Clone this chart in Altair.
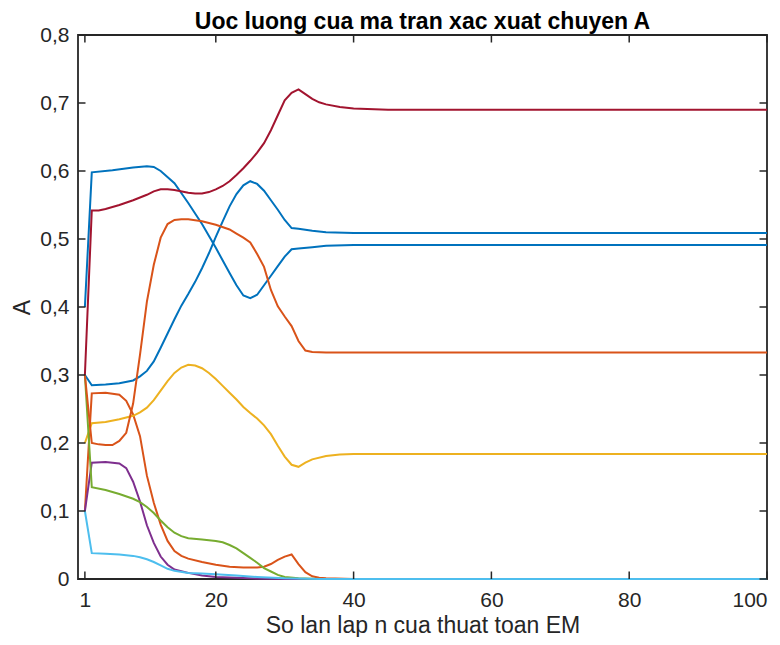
import altair as alt
import pandas as pd

# ---- data (iteration, value) ----
x_blue1 = [1, 2, 5, 8, 10, 11, 12, 14, 16, 18, 20, 22, 23, 24, 25, 26, 27, 28, 29, 30, 31, 32, 34, 36, 40, 50, 100]
y_blue1 = [0.400, 0.598, 0.601, 0.605, 0.607, 0.606, 0.600, 0.582, 0.553, 0.522, 0.487, 0.450, 0.432, 0.417, 0.413, 0.418, 0.432, 0.446, 0.460, 0.474, 0.485, 0.486, 0.488, 0.490, 0.491, 0.491, 0.491]

x_orange1 = [1, 2, 4, 6, 7, 8, 9, 10, 11, 12, 13, 14, 15, 16, 18, 20, 22, 24, 26, 27, 28, 29, 30, 31, 32, 33, 34, 35, 36, 40, 100]
y_orange1 = [0.100, 0.273, 0.274, 0.271, 0.262, 0.242, 0.210, 0.152, 0.112, 0.080, 0.056, 0.041, 0.034, 0.030, 0.025, 0.021, 0.018, 0.017, 0.017, 0.018, 0.022, 0.028, 0.033, 0.036, 0.022, 0.010, 0.004, 0.002, 0.001, 0.000, 0.000]

x_yellow = [1, 2, 4, 6, 8, 9, 10, 11, 12, 13, 14, 15, 16, 17, 18, 19, 20, 21, 22, 23, 24, 25, 26, 27, 28, 29, 30, 31, 32, 33, 34, 36, 38, 40, 100]
y_yellow = [0.200, 0.229, 0.231, 0.235, 0.240, 0.245, 0.252, 0.263, 0.277, 0.291, 0.303, 0.311, 0.315, 0.314, 0.310, 0.303, 0.294, 0.284, 0.274, 0.264, 0.253, 0.244, 0.236, 0.226, 0.213, 0.196, 0.180, 0.168, 0.165, 0.171, 0.176, 0.181, 0.183, 0.184, 0.184]

x_purple = [1, 2, 4, 6, 7, 8, 9, 10, 11, 12, 13, 14, 16, 18, 20, 25, 30, 100]
y_purple = [0.100, 0.171, 0.172, 0.170, 0.163, 0.143, 0.114, 0.079, 0.053, 0.033, 0.021, 0.014, 0.009, 0.005, 0.003, 0.001, 0.000, 0.000]

x_green = [1, 2, 4, 6, 8, 9, 10, 11, 12, 13, 14, 15, 16, 18, 20, 21, 22, 23, 24, 25, 26, 27, 28, 29, 30, 32, 35, 100]
y_green = [0.300, 0.135, 0.131, 0.125, 0.118, 0.113, 0.106, 0.097, 0.086, 0.076, 0.068, 0.063, 0.060, 0.058, 0.056, 0.054, 0.050, 0.045, 0.038, 0.031, 0.024, 0.016, 0.011, 0.006, 0.003, 0.001, 0.000, 0.000]

x_lightblue = [1, 2, 4, 6, 8, 9, 10, 11, 12, 13, 14, 16, 18, 20, 23, 26, 30, 35, 100]
y_lightblue = [0.100, 0.038, 0.037, 0.036, 0.034, 0.032, 0.029, 0.025, 0.020, 0.015, 0.012, 0.009, 0.008, 0.007, 0.005, 0.003, 0.001, 0.000, 0.000]

x_darkred = [1, 2, 3, 4, 6, 8, 10, 11, 12, 13, 14, 16, 17, 18, 19, 20, 21, 22, 23, 24, 25, 26, 27, 28, 29, 30, 31, 32, 33, 34, 35, 36, 38, 40, 45, 100]
y_darkred = [0.300, 0.542, 0.542, 0.544, 0.550, 0.557, 0.565, 0.570, 0.573, 0.573, 0.572, 0.568, 0.567, 0.567, 0.569, 0.573, 0.578, 0.585, 0.594, 0.604, 0.615, 0.627, 0.641, 0.660, 0.682, 0.704, 0.715, 0.720, 0.713, 0.706, 0.701, 0.698, 0.694, 0.692, 0.690, 0.690]

x_blue2 = [1, 2, 4, 6, 8, 9, 10, 11, 12, 13, 14, 15, 16, 17, 18, 19, 20, 21, 22, 23, 24, 25, 26, 27, 28, 29, 30, 31, 32, 34, 36, 40, 100]
y_blue2 = [0.300, 0.285, 0.286, 0.288, 0.292, 0.298, 0.306, 0.320, 0.340, 0.361, 0.382, 0.402, 0.419, 0.437, 0.457, 0.479, 0.503, 0.526, 0.548, 0.566, 0.579, 0.585, 0.581, 0.571, 0.557, 0.543, 0.528, 0.516, 0.515, 0.512, 0.510, 0.509, 0.509]

x_orange2 = [1, 2, 3, 4, 5, 6, 7, 8, 9, 10, 11, 12, 13, 14, 15, 16, 18, 20, 22, 23, 24, 25, 26, 27, 28, 29, 30, 31, 32, 33, 34, 36, 100]
y_orange2 = [0.300, 0.200, 0.198, 0.197, 0.197, 0.203, 0.215, 0.258, 0.330, 0.408, 0.462, 0.502, 0.522, 0.528, 0.529, 0.529, 0.526, 0.521, 0.514, 0.508, 0.502, 0.495, 0.478, 0.459, 0.425, 0.401, 0.386, 0.372, 0.350, 0.336, 0.334, 0.333, 0.333]

series = [
    ("s1", x_blue1, y_blue1),
    ("s2", x_orange1, y_orange1),
    ("s3", x_yellow, y_yellow),
    ("s4", x_purple, y_purple),
    ("s5", x_green, y_green),
    ("s6", x_lightblue, y_lightblue),
    ("s7", x_darkred, y_darkred),
    ("s8", x_blue2, y_blue2),
    ("s9", x_orange2, y_orange2),
]
series_colors = ["#0072BD", "#D95319", "#EDB120", "#7E2F8E", "#77AC30",
                 "#4DBEEE", "#A2142F", "#0072BD", "#D95319"]

x_ticks = [1, 20, 40, 60, 80, 100]
y_ticks = [0, 0.1, 0.2, 0.3, 0.4, 0.5, 0.6, 0.7, 0.8]

title_text = "Uoc luong cua ma tran xac xuat chuyen A"
x_title = "So lan lap n cua thuat toan EM"
y_title = "A"

# ---- build table ----
rows = []
for name, xs, ys in series:
    for xv, yv in zip(xs, ys):
        rows.append({"s": name, "x": xv, "y": yv})
df = pd.DataFrame(rows)

W, H = 689, 544
AX = "#262626"
FONT = "Liberation Sans"

x_scale = alt.Scale(domain=[0, 100], nice=False, zero=False)
y_scale = alt.Scale(domain=[0, 0.8], nice=False)

x_axis = alt.Axis(values=x_ticks, title=x_title, labelPadding=10,
                  titleY=53, titleBaseline="alphabetic", titleAnchor="middle")
y_axis = alt.Axis(values=y_ticks, title=y_title, labelPadding=9,
                  labelExpr="datum.value == 0 ? '0' : replace(format(datum.value, '.1f'), '.', ',')",
                  titleX=-49, titleY=H / 2, titleAngle=-90,
                  titleBaseline="alphabetic", titleAlign="center")

lines = alt.Chart(df).mark_line(strokeWidth=2).encode(
    x=alt.X("x:Q", scale=x_scale, axis=x_axis),
    y=alt.Y("y:Q", scale=y_scale, axis=y_axis),
    color=alt.Color("s:N", scale=alt.Scale(domain=[s[0] for s in series], range=series_colors), legend=None),
    order=alt.Order("x:Q"),
)

xt = pd.DataFrame({"x": x_ticks})
yt = pd.DataFrame({"y": y_ticks})
TL = 7.5
tick_style = dict(color=AX, strokeWidth=1.5)

bottom_ticks = alt.Chart(xt).mark_rule(**tick_style).encode(
    x=alt.X("x:Q", scale=x_scale, axis=x_axis), y=alt.value(H), y2=alt.value(H - TL))
top_ticks = alt.Chart(xt).mark_rule(**tick_style).encode(
    x=alt.X("x:Q", scale=x_scale, axis=x_axis), y=alt.value(0), y2=alt.value(TL))
left_ticks = alt.Chart(yt).mark_rule(**tick_style).encode(
    y=alt.Y("y:Q", scale=y_scale, axis=y_axis), x=alt.value(0), x2=alt.value(TL))
right_ticks = alt.Chart(yt).mark_rule(**tick_style).encode(
    y=alt.Y("y:Q", scale=y_scale, axis=y_axis), x=alt.value(W - TL), x2=alt.value(W))

title_mark = alt.Chart(pd.DataFrame({"t": [title_text]})).mark_text(
    font=FONT, fontSize=23, fontWeight="bold", color="#000000",
    align="center", baseline="alphabetic",
).encode(text="t:N", x=alt.value(W / 2), y=alt.value(-6))

chart = alt.layer(lines, bottom_ticks, top_ticks, left_ticks, right_ticks, title_mark).properties(
    width=W, height=H,
    autosize=alt.AutoSizeParams(type="none"),
    padding={"left": 70, "top": 27, "right": 4, "bottom": 58},
    background="white",
).configure_view(
    stroke=AX, strokeWidth=1.8
).configure_axis(
    domain=False, ticks=False, grid=False,
    labelFont=FONT, labelFontSize=21, labelColor=AX,
    titleFont=FONT, titleFontSize=23, titleColor=AX, titleFontWeight="normal",
)

chart.save("out.html", embed_options={"renderer": "svg", "actions": False})
